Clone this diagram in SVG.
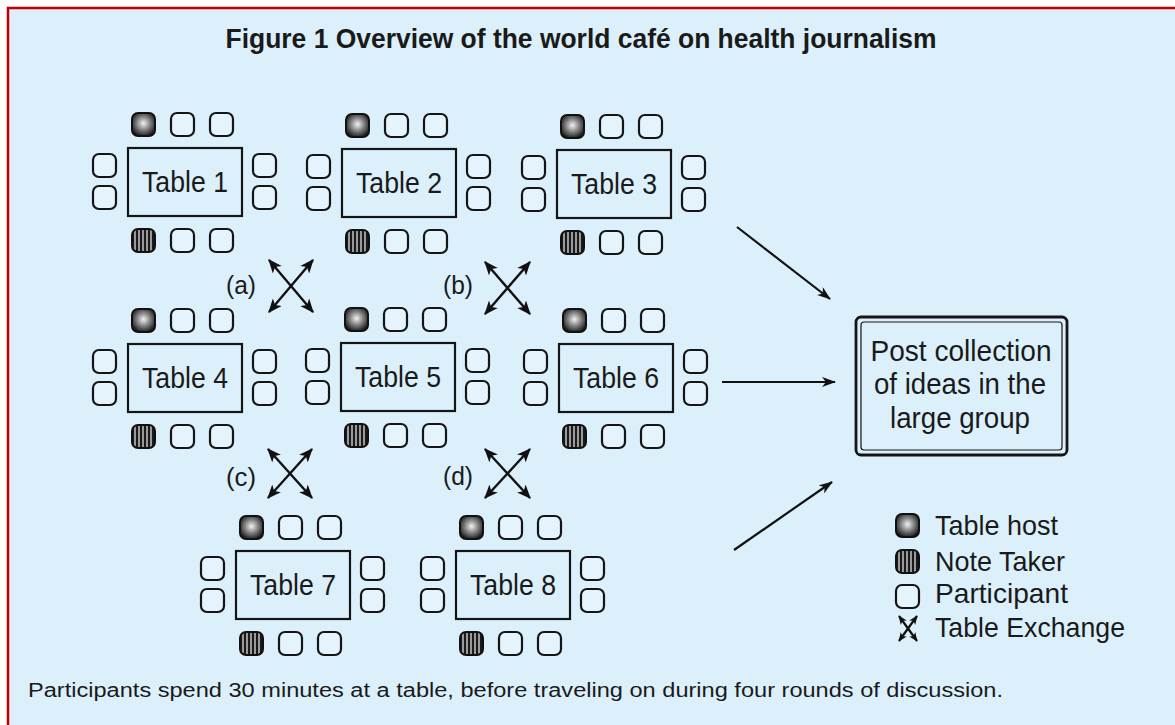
<svg xmlns="http://www.w3.org/2000/svg" xmlns:xlink="http://www.w3.org/1999/xlink" width="1175" height="725" viewBox="0 0 1175 725">
<style>
  text { font-family: "Liberation Sans", Arial, sans-serif; fill: #1a1a1a; }
  .title { font-size: 27px; font-weight: bold; text-anchor: middle; }
  .tlabel { font-size: 30px; text-anchor: middle; }
  .xlabel { font-size: 25px; text-anchor: middle; }
  .post { font-size: 30px; text-anchor: middle; }
  .legend { font-size: 28px; }
  .foot { font-size: 20px; }
  .table { fill: none; stroke: #151515; stroke-width: 2.2; }
  .seat { fill: #e4f3fc; stroke: #151515; stroke-width: 2.2; }
  .conn { stroke: #111; stroke-width: 2.2; fill: none; }
  .xch { stroke: #111; stroke-width: 2.4; fill: none; marker-start: url(#xh); marker-end: url(#xh); }
</style>
<defs>
  <radialGradient id="hostg" cx="0.5" cy="0.45" r="0.6">
    <stop offset="0" stop-color="#f2f2f2"/>
    <stop offset="0.45" stop-color="#8a8a8a"/>
    <stop offset="1" stop-color="#111"/>
  </radialGradient>
  <pattern id="stripes" width="4" height="10" patternUnits="userSpaceOnUse">
    <rect width="4" height="10" fill="#9a9a9a"/>
    <rect width="2" height="10" fill="#1a1a1a"/>
  </pattern>
  <marker id="arr" viewBox="0 0 14 10" refX="13" refY="5" markerWidth="14" markerHeight="10" markerUnits="userSpaceOnUse" orient="auto">
    <path d="M0,0 L14,5 L0,10 L4,5 Z" fill="#111"/>
  </marker>
  <marker id="xh" viewBox="0 0 12 10" refX="11" refY="5" markerWidth="14" markerHeight="12" markerUnits="userSpaceOnUse" orient="auto-start-reverse">
    <path d="M0,0 L12,5 L0,10 L3,5 Z" fill="#111"/>
  </marker>
  <marker id="xhs" viewBox="0 0 12 10" refX="11" refY="5" markerWidth="9" markerHeight="8" markerUnits="userSpaceOnUse" orient="auto-start-reverse">
    <path d="M0,0 L12,5 L0,10 L3,5 Z" fill="#111"/>
  </marker>
  <rect id="part" width="23" height="23" rx="6" class="seat"/>
  <rect id="host" width="23" height="23" rx="6" fill="url(#hostg)" stroke="#111" stroke-width="2"/>
  <rect id="note" width="23" height="23" rx="6" fill="url(#stripes)" stroke="#111" stroke-width="2"/>
  <g id="seats">
    <use xlink:href="#host" x="4" y="-35"/>
    <use xlink:href="#part" x="43" y="-35"/>
    <use xlink:href="#part" x="82" y="-35"/>
    <use xlink:href="#part" x="-35" y="6"/>
    <use xlink:href="#part" x="-35" y="38"/>
    <use xlink:href="#part" x="125" y="6"/>
    <use xlink:href="#part" x="125" y="38"/>
    <use xlink:href="#note" x="4" y="81"/>
    <use xlink:href="#part" x="43" y="81"/>
    <use xlink:href="#part" x="82" y="81"/>
  </g>
</defs>

<rect x="0" y="0" width="1175" height="725" fill="#ffffff"/>
<rect x="8" y="8" width="1180" height="730" fill="#dcf0fb" stroke="#c00000" stroke-width="2.5"/>

<text class="title" x="581" y="48" textLength="711" lengthAdjust="spacingAndGlyphs">Figure 1 Overview of the world café on health journalism</text>

<g id="table1" transform="translate(128,148)">
  <use xlink:href="#seats"/>
  <rect class="table" width="114" height="68"/>
  <text class="tlabel" x="57" y="44" textLength="86" lengthAdjust="spacingAndGlyphs">Table 1</text>
</g>
<g id="table2" transform="translate(342,149)">
  <use xlink:href="#seats"/>
  <rect class="table" width="114" height="68"/>
  <text class="tlabel" x="57" y="44" textLength="86" lengthAdjust="spacingAndGlyphs">Table 2</text>
</g>
<g id="table3" transform="translate(557,150)">
  <use xlink:href="#seats"/>
  <rect class="table" width="114" height="68"/>
  <text class="tlabel" x="57" y="44" textLength="86" lengthAdjust="spacingAndGlyphs">Table 3</text>
</g>
<g id="table4" transform="translate(128,344)">
  <use xlink:href="#seats"/>
  <rect class="table" width="114" height="68"/>
  <text class="tlabel" x="57" y="44" textLength="86" lengthAdjust="spacingAndGlyphs">Table 4</text>
</g>
<g id="table5" transform="translate(341,343)">
  <use xlink:href="#seats"/>
  <rect class="table" width="114" height="68"/>
  <text class="tlabel" x="57" y="44" textLength="86" lengthAdjust="spacingAndGlyphs">Table 5</text>
</g>
<g id="table6" transform="translate(559,344)">
  <use xlink:href="#seats"/>
  <rect class="table" width="114" height="68"/>
  <text class="tlabel" x="57" y="44" textLength="86" lengthAdjust="spacingAndGlyphs">Table 6</text>
</g>
<g id="table7" transform="translate(236,551)">
  <use xlink:href="#seats"/>
  <rect class="table" width="114" height="68"/>
  <text class="tlabel" x="57" y="44" textLength="86" lengthAdjust="spacingAndGlyphs">Table 7</text>
</g>
<g id="table8" transform="translate(456,551)">
  <use xlink:href="#seats"/>
  <rect class="table" width="114" height="68"/>
  <text class="tlabel" x="57" y="44" textLength="86" lengthAdjust="spacingAndGlyphs">Table 8</text>
</g>

<g id="post">
  <rect x="856" y="317" width="211" height="138" rx="5" fill="none" stroke="#151515" stroke-width="2.8"/>
  <rect x="861" y="322" width="201" height="128" rx="3" fill="none" stroke="#151515" stroke-width="1.2"/>
  <text class="post" x="961" y="361" textLength="181" lengthAdjust="spacingAndGlyphs">Post collection</text>
  <text class="post" x="960" y="394" textLength="172" lengthAdjust="spacingAndGlyphs">of ideas in the</text>
  <text class="post" x="960" y="428" textLength="140" lengthAdjust="spacingAndGlyphs">large group</text>
</g>

<g id="connectors">
  <line class="xch" x1="269" y1="260" x2="313" y2="312"/>
  <line class="xch" x1="313" y1="260" x2="269" y2="312"/>
  <line class="xch" x1="485" y1="262" x2="530" y2="314"/>
  <line class="xch" x1="530" y1="262" x2="485" y2="314"/>
  <line class="xch" x1="268" y1="449" x2="312" y2="498"/>
  <line class="xch" x1="312" y1="449" x2="268" y2="498"/>
  <line class="xch" x1="485" y1="449" x2="530" y2="498"/>
  <line class="xch" x1="530" y1="449" x2="485" y2="498"/>
  <line class="conn" x1="737" y1="227" x2="830" y2="299" marker-end="url(#arr)"/>
  <line class="conn" x1="722" y1="382" x2="835" y2="382" marker-end="url(#arr)"/>
  <line class="conn" x1="734" y1="550" x2="832" y2="482" marker-end="url(#arr)"/>
</g>

<g id="exchange-labels">
  <text class="xlabel" x="241" y="294" textLength="30" lengthAdjust="spacingAndGlyphs">(a)</text>
  <text class="xlabel" x="458" y="294" textLength="30" lengthAdjust="spacingAndGlyphs">(b)</text>
  <text class="xlabel" x="241" y="486" textLength="30" lengthAdjust="spacingAndGlyphs">(c)</text>
  <text class="xlabel" x="458" y="485" textLength="30" lengthAdjust="spacingAndGlyphs">(d)</text>
</g>

<g id="legend">
  <use xlink:href="#host" x="896" y="514"/>
  <use xlink:href="#note" x="896" y="550"/>
  <use xlink:href="#part" x="896" y="585"/>
  <line x1="899" y1="616" x2="917" y2="641" stroke="#111" stroke-width="2.2" marker-start="url(#xhs)" marker-end="url(#xhs)"/>
  <line x1="917" y1="616" x2="899" y2="641" stroke="#111" stroke-width="2.2" marker-start="url(#xhs)" marker-end="url(#xhs)"/>
  <text class="legend" x="935" y="535" textLength="123" lengthAdjust="spacingAndGlyphs">Table host</text>
  <text class="legend" x="935" y="571" textLength="130" lengthAdjust="spacingAndGlyphs">Note Taker</text>
  <text class="legend" x="935" y="603" textLength="133" lengthAdjust="spacingAndGlyphs">Participant</text>
  <text class="legend" x="935" y="637" textLength="190" lengthAdjust="spacingAndGlyphs">Table Exchange</text>
</g>

<text class="foot" x="28" y="697" textLength="975" lengthAdjust="spacingAndGlyphs">Participants spend 30 minutes at a table, before traveling on during four rounds of discussion.</text>
</svg>
